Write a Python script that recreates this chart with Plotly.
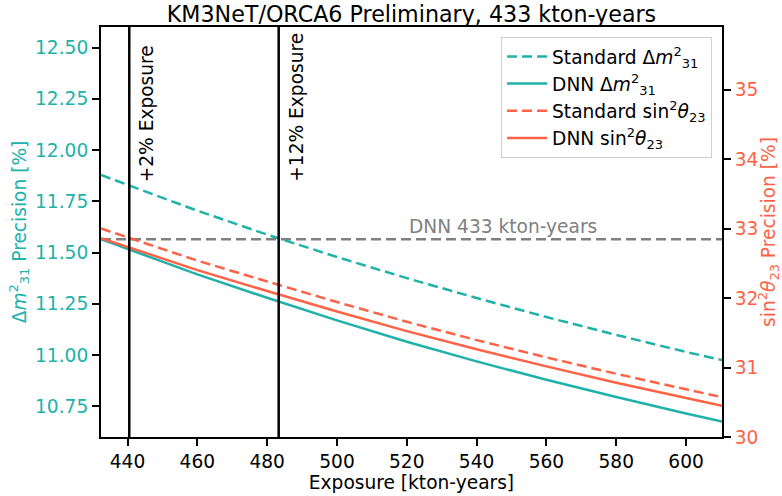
import plotly.graph_objects as go

# ---- data ----
exposure = [432.4, 440, 460, 480, 500, 520, 540, 560, 580, 600, 610.3]
standard_dm31 = [11.878, 11.830, 11.704, 11.587, 11.478, 11.375, 11.278, 11.185, 11.098, 11.015, 10.975]
dnn_dm31 = [11.565, 11.517, 11.393, 11.279, 11.169, 11.065, 10.969, 10.879, 10.795, 10.715, 10.675]
standard_th23 = [33.00, 32.874, 32.538, 32.238, 31.942, 31.658, 31.394, 31.146, 30.910, 30.686, 30.573]
dnn_th23 = [32.862, 32.738, 32.402, 32.100, 31.805, 31.524, 31.262, 31.016, 30.782, 30.560, 30.449]

dnn_reference_dm31 = 11.565
reference_label = "DNN 433 kton-years"
reference_label_x = 520

exposure_marks = [440.5, 483.3]
exposure_mark_labels = ["+2% Exposure", "+12% Exposure"]

left_ticks = [10.75, 11.00, 11.25, 11.50, 11.75, 12.00, 12.25, 12.50]
right_ticks = [30, 31, 32, 33, 34, 35]
x_ticks = [440, 460, 480, 500, 520, 540, 560, 580, 600]

TEAL = "#20B2AA"
RED = "#FF6347"
GREY = "#808080"
FONT = "DejaVu Sans"
FS = 18.6

fig = go.Figure()

# grey reference line
fig.add_trace(go.Scatter(
    x=[exposure[0], exposure[-1]], y=[dnn_reference_dm31, dnn_reference_dm31],
    mode="lines", line=dict(color=GREY, width=2.5, dash="10px,5px"),
    showlegend=False, hoverinfo="skip", yaxis="y"))

fig.add_trace(go.Scatter(
    x=exposure, y=standard_dm31, mode="lines",
    name="Standard Δ<i>m</i><sup>2</sup><sub>31</sub>",
    line=dict(color=TEAL, width=2.5, dash="10px,5px"), yaxis="y"))
fig.add_trace(go.Scatter(
    x=exposure, y=dnn_dm31, mode="lines",
    name="DNN Δ<i>m</i><sup>2</sup><sub>31</sub>",
    line=dict(color=TEAL, width=2.5), yaxis="y"))
fig.add_trace(go.Scatter(
    x=exposure, y=standard_th23, mode="lines",
    name="Standard sin<sup>2</sup><i>θ</i><sub>23</sub>",
    line=dict(color=RED, width=2.5, dash="10px,5px"), yaxis="y2"))
fig.add_trace(go.Scatter(
    x=exposure, y=dnn_th23, mode="lines",
    name="DNN sin<sup>2</sup><i>θ</i><sub>23</sub>",
    line=dict(color=RED, width=2.5), yaxis="y2"))

shapes = []
annotations = []
for xm, lab in zip(exposure_marks, exposure_mark_labels):
    shapes.append(dict(type="line", xref="x", yref="paper", x0=xm, x1=xm, y0=0, y1=1,
                       line=dict(color="black", width=2.5)))
    annotations.append(dict(xref="x", yref="paper", x=xm, y=0.617, text=lab,
                            textangle=-90, showarrow=False, xanchor="left", yanchor="bottom",
                            xshift=5, font=dict(family=FONT, size=FS, color="black")))

annotations.append(dict(xref="x", yref="y", x=reference_label_x, y=dnn_reference_dm31,
                        text=reference_label, showarrow=False, xanchor="left", yanchor="bottom",
                        yshift=0, font=dict(family=FONT, size=FS, color=GREY)))

fig.update_layout(
    width=782, height=496,
    margin=dict(l=101, r=60, t=27, b=59, autoexpand=False),
    paper_bgcolor="white", plot_bgcolor="white",
    font=dict(family=FONT, size=FS, color="black"),
    title=dict(text="KM3NeT/ORCA6 Preliminary, 433 kton-years", x=0.5, xref="paper",
               xanchor="center", y=0.986, yanchor="top", yref="container", automargin=False,
               font=dict(family=FONT, size=22.2, color="black")),
    xaxis=dict(range=[432.4, 610.3], tickvals=x_ticks, ticks="outside", ticklen=7, tickwidth=1.5,
               tickcolor="black", showline=True, linecolor="black", linewidth=2, mirror=True,
               showgrid=False, zeroline=False, automargin=False,
               title=dict(text="Exposure [kton-years]", standoff=4, font=dict(size=FS)),
               tickfont=dict(size=FS, color="black")),
    yaxis=dict(range=[10.6, 12.6], tickvals=left_ticks, tickformat=".2f", ticks="outside",
               ticklen=7, tickwidth=1.5, tickcolor="black", showline=True, linecolor="black",
               linewidth=2, showgrid=False, zeroline=False, automargin=False,
               tickfont=dict(size=FS, color=TEAL),
               title=dict(text="Δ<i>m</i><sup>2</sup><sub>31</sub> Precision [%]", standoff=4,
                          font=dict(size=FS, color=TEAL))),
    yaxis2=dict(range=[30.0, 35.9], tickvals=right_ticks, overlaying="y", side="right",
                ticks="outside", ticklen=7, tickwidth=1.5, tickcolor="black", showline=True,
                linecolor="black", linewidth=2, showgrid=False, zeroline=False, automargin=False,
                tickfont=dict(size=FS, color=RED),
                title=dict(text="sin<sup>2</sup><i>θ</i><sub>23</sub> Precision [%]", standoff=2,
                           font=dict(size=FS, color=RED))),
    legend=dict(x=0.984, xanchor="right", y=0.976, yanchor="top",
                bgcolor="rgba(255,255,255,0.85)", bordercolor="#d0d0d0", borderwidth=1,
                font=dict(family=FONT, size=FS), itemwidth=40, tracegroupgap=0),
    shapes=shapes, annotations=annotations,
)

fig.write_html("out.html", config={"displayModeBar": False},
               post_script="document.body.style.margin='0px';document.body.style.overflow='hidden';")
